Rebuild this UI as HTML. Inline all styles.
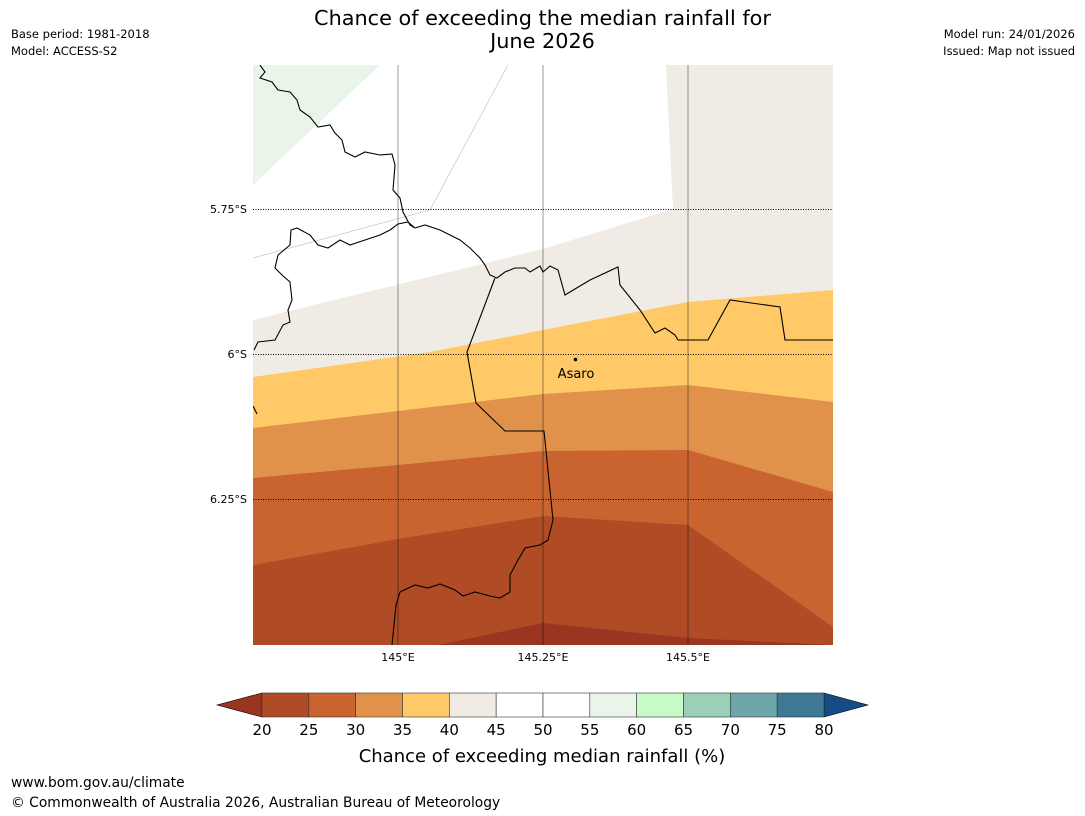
<!DOCTYPE html>
<html><head><meta charset="utf-8"><style>
body{margin:0;background:#fff;font-family:"DejaVu Sans","Liberation Sans",sans-serif;}
#c{position:relative;width:1085px;height:816px;overflow:hidden;background:#fff}
.t{position:absolute;white-space:nowrap;color:#000}
</style></head><body><div id="c">
<div class="t" style="left:0;width:1085px;top:7px;text-align:center;font-size:20.8px;line-height:23px">Chance of exceeding the median rainfall for<br>June 2026</div>
<div class="t" style="left:11px;top:27px;font-size:11.5px">Base period: 1981-2018</div>
<div class="t" style="left:11px;top:44px;font-size:11.5px">Model: ACCESS-S2</div>
<div class="t" style="right:10px;top:27px;font-size:11.5px">Model run: 24/01/2026</div>
<div class="t" style="right:10px;top:44px;font-size:11.5px">Issued: Map not issued</div>
<svg width="1085" height="816" style="position:absolute;left:0;top:0">
<defs><clipPath id="mc"><rect x="253" y="65" width="580" height="580"/></clipPath></defs>
<g clip-path="url(#mc)">
<rect x="253" y="65" width="580" height="580" fill="#fff"/>
<polygon fill="#eaf5ea" points="253,65 380,65 253,185"/>
<polygon fill="#f0ebe5" points="666,65 833,65 833,645 253,645 253,320 543,249 673,209"/>
<polygon fill="#fec966" points="253,377 430,352 543,330 688,302 833,290 833,645 253,645"/>
<polygon fill="#e0924a" points="253,428 398,411 543,394 688,385 833,402 833,645 253,645"/>
<polygon fill="#c96330" points="253,478 398,465 543,451 688,450 833,492 833,645 253,645"/>
<polygon fill="#b04c25" points="253,565 398,539 543,516 688,525 833,627 833,645 253,645"/>
<polygon fill="#993520" points="438,645 543,623 688,638 833,645"/>
<polyline fill="none" stroke="#bbb" stroke-width="0.6" points="253,258 430,210 508,65"/>
<g>
<line x1="398" y1="65" x2="398" y2="645" stroke="#000" stroke-opacity="0.4"/>
<line x1="543" y1="65" x2="543" y2="645" stroke="#000" stroke-opacity="0.4"/>
<line x1="688" y1="65" x2="688" y2="645" stroke="#000" stroke-opacity="0.4"/>
<line x1="253" y1="209.5" x2="833" y2="209.5" stroke="#000" stroke-dasharray="1,1.5"/>
<line x1="253" y1="354.5" x2="833" y2="354.5" stroke="#000" stroke-dasharray="1,1.5"/>
<line x1="253" y1="499.5" x2="833" y2="499.5" stroke="#000" stroke-dasharray="1,1.5"/>
</g>
<g fill="none" stroke="#000" stroke-width="1.1">
<polyline points="260,65 265,72 260,78 272,82 278,90 290,92 297,100 300,110 310,117 318,127 330,125 335,133 342,140 345,152 355,157 365,152 380,155 392,154 395,165 393,190 400,198 403,212 410,225 415,228 408,222 398,224 390,230 380,235 365,240 350,245 340,240 328,248 318,245 310,235 297,228 291,230 290,245 278,255 275,268 282,275 290,282 292,300 288,310 290,322 283,325 275,340 258,342 254,350"/>
<polyline points="415,228 425,225 440,230 450,235 460,240 470,248 480,258 485,265 490,275 497,278 505,272 515,268 525,268 530,272 540,266 543,272 550,266 558,270 565,295 590,280 618,267 620,285 628,295 640,310 655,333 665,328 675,335 678,340 708,340 730,300 780,307 785,340 833,340"/>
<polyline points="495,278 467,352 476,403 505,431 544,431 553,520 548,540 540,545 525,548 518,560 510,575 510,592 500,598 490,596 475,592 463,596 455,590 440,584 428,588 415,585 400,592 396,605 392,645"/>
<polyline points="253,406 257,414"/>
</g>
</g>
<circle cx="575.5" cy="359.5" r="1.8" fill="#000"/>
<text x="576" y="378" font-size="13" text-anchor="middle" font-family="DejaVu Sans, sans-serif">Asaro</text>
<g font-size="11" font-family="DejaVu Sans, sans-serif">
<text x="247" y="213" text-anchor="end">5.75°S</text>
<text x="247" y="358" text-anchor="end">6°S</text>
<text x="247" y="503" text-anchor="end">6.25°S</text>
<text x="398" y="661" text-anchor="middle">145°E</text>
<text x="543" y="661" text-anchor="middle">145.25°E</text>
<text x="688" y="661" text-anchor="middle">145.5°E</text>
</g>
<g id="cbar"></g>
<text x="542" y="762" font-size="18" text-anchor="middle" font-family="DejaVu Sans, sans-serif">Chance of exceeding median rainfall (%)</text>
</svg>
<div class="t" style="left:11px;top:775px;font-size:13.8px">www.bom.gov.au/climate</div>
<div class="t" style="left:11px;top:795px;font-size:13.8px">© Commonwealth of Australia 2026, Australian Bureau of Meteorology</div>
</div>
<script>
const levels=[20,25,30,35,40,45,50,55,60,65,70,75,80];
const colors=["#b04c25","#c96330","#e0924a","#fec966","#f0ebe5","#ffffff","#ffffff","#eaf5ea","#c8fac8","#9ccfb8","#6fa6a9","#3f7895"];
const g=document.getElementById('cbar');const ns="http://www.w3.org/2000/svg";
const x0=262,x1=824,y0=693,h=24;
const sx=v=>x0+(v-levels[0])/(levels[levels.length-1]-levels[0])*(x1-x0);
function mk(t,a){const e=document.createElementNS(ns,t);for(const k in a)e.setAttribute(k,a[k]);g.appendChild(e);return e;}
let e=mk('polygon',{points:`${x0},${y0} 217,${y0+h/2} ${x0},${y0+h}`,fill:'#993520',stroke:'#000','stroke-width':0.6});

e=mk('polygon',{points:`${x1},${y0} 868,${y0+h/2} ${x1},${y0+h}`,fill:'#154c85',stroke:'#000','stroke-width':0.6});

for(let i=0;i<colors.length;i++){
 const r=mk('rect',{x:sx(levels[i]),y:y0,width:sx(levels[i+1])-sx(levels[i]),height:h,fill:colors[i],stroke:'#333','stroke-width':0.6});
 
}
for(const v of levels){
 const t=mk('text',{x:sx(v),y:735,'font-size':15,'text-anchor':'middle','font-family':'DejaVu Sans, sans-serif'});
 t.textContent=v;
 
}
</script>
</body></html>
